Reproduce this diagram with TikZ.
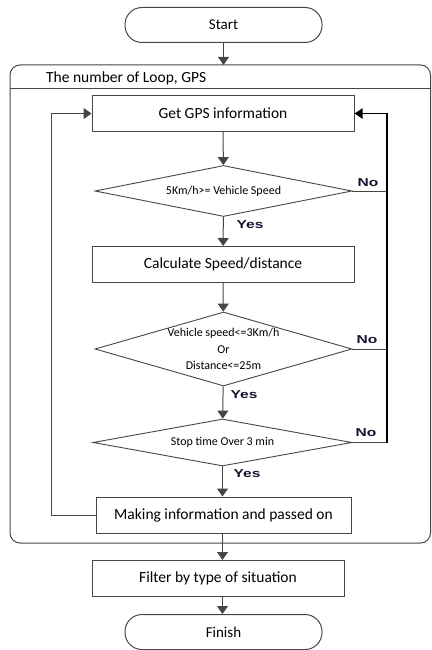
\documentclass[tikz,border=0pt]{standalone}
\usepackage{fontspec}
\setmainfont{Carlito}
\newfontfamily\labfont{Liberation Sans}
\usetikzlibrary{shapes.geometric,arrows.meta,calc}
\definecolor{ln}{RGB}{70,70,70}
\definecolor{labc}{RGB}{20,20,50}
\begin{document}
\begin{tikzpicture}[x=1pt,y=-1pt,
  line/.style={draw=ln,line width=1pt},
  arr/.style={line,-{Triangle[length=8pt,width=11pt]}},
  term/.style={draw=ln,line width=1pt,rounded corners=17pt,minimum width=197pt,minimum height=35pt,inner sep=0pt,font=\fontsize{15}{17}\selectfont},
  proc/.style={draw=ln,line width=1pt,minimum height=36pt,inner sep=0pt,font=\fontsize{15.5}{17}\selectfont},
  dec/.style={diamond,draw=ln,line width=0.9pt,inner sep=0pt,aspect=5},
  dtext/.style={inner sep=0pt,align=center,font=\fontsize{12}{16.5}\selectfont},
  yn/.style={inner sep=0pt,text=labc,font=\labfont\bfseries\fontsize{11.5}{12}\selectfont,xscale=1.35}
]
\useasboundingbox (0,0) rectangle (431,650);
% outer loop frame
\draw[line] (10,88.5) -- (430.5,88.5);
\draw[line,rounded corners=10pt] (10,65) rectangle (430.5,543);
\node[anchor=west,inner sep=0pt,font=\fontsize{15.5}{17}\selectfont] (title) at (46,78) {The number of Loop, GPS};

\node[term] (start) at (223.5,25) {Start};
\node[proc,minimum width=262pt] (gps) at (223,113.5) {Get GPS information};
\node[dec,minimum width=257pt,minimum height=51pt] (d1) at (223.5,191) {};
\node[dtext] (t1) at (d1) {5Km/h>= Vehicle Speed};
\node[proc,minimum width=262pt] (calc) at (223,264.5) {Calculate Speed/distance};
\node[dec,minimum width=257pt,minimum height=74pt] (d2) at (223.5,349) {};
\node[dtext] (t2) at (d2) {Vehicle speed<=3Km/h\\Or\\Distance<=25m};
\node[dec,minimum width=259pt,minimum height=47pt] (d3) at (222.5,442.5) {};
\node[dtext] (t3) at (d3) {Stop time Over 3 min};
\node[proc,minimum width=255pt] (make) at (223.5,515) {Making information and passed on};
\node[proc,minimum width=252pt] (filt) at (218,578.5) {Filter by type of situation};
\node[term] (fin) at (223.5,632) {Finish};

% labels
\node[yn] (no1) at (368,183) {No};
\node[yn] (yes1) at (250,225) {Yes};
\node[yn] (no2) at (367,340) {No};
\node[yn] (yes2) at (244,395) {Yes};
\node[yn] (no3) at (366,433) {No};
\node[yn] (yes3) at (247,474) {Yes};

% main flow
\coordinate (ftop) at (223.5,65);
\draw[arr] (start) -- (ftop);
\draw[arr] (gps) -- (d1);
\draw[arr] (d1) -- (calc);
\draw[arr] (calc) -- (d2);
\draw[arr] (d2) -- (d3);
\draw[arr] (d3.south) -- (d3.south |- make.north);
\draw[arr] (make.south -| d3.south) -- (filt.north -| d3.south);
\draw[arr] (filt.south -| d3.south) -- (fin.north -| d3.south);

% left loop
\coordinate (lb) at (51,515);
\coordinate (lt) at (51,113.5);
\draw[arr] (make.west) -- (lb) -- (lt) -- (gps.west);

% right loop
\coordinate (r1) at (387,191);
\coordinate (r2) at (387,349);
\coordinate (r3) at (387,442.5);
\coordinate (rt) at (387,113.5);
\draw[line] (d1.east) -- (r1);
\draw[line] (d2.east) -- (r2);
\draw[line] (d3.east) -- (r3);
\draw[draw=black,line width=1.8pt,-{Triangle[length=8pt,width=10pt]}] (r3) -- (rt) -- (gps.east);
\end{tikzpicture}
\end{document}
